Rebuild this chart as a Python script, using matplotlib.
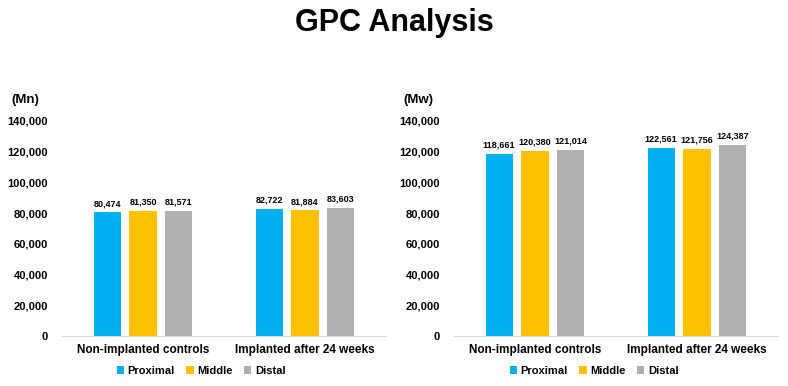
import matplotlib.pyplot as plt
import numpy as np

plt.rcParams['font.family'] = ['Liberation Sans', 'DejaVu Sans']
plt.rcParams['font.weight'] = 'bold'

groups = ['Non-implanted controls', 'Implanted after 24 weeks']
series = ['Proximal', 'Middle', 'Distal']
colors = ['#00B0F0', '#FFC000', '#B0B0B0']

mn_values = [[80474, 82722], [81350, 81884], [81571, 83603]]
mw_values = [[118661, 122561], [120380, 121756], [121014, 124387]]

yticks = [0, 20000, 40000, 60000, 80000, 100000, 120000, 140000]

fig = plt.figure(figsize=(7.88, 3.86), dpi=100)
fig.text(0.5, 0.94, 'GPC Analysis', ha='center', va='center', fontsize=22, fontweight='bold')

panels = [
    (62 / 788, mn_values, '(Mn)', 201 / 788),
    (454 / 788, mw_values, '(Mw)', 594 / 788),
]

x = np.arange(len(groups))
w = 0.167
offsets = [-0.222, 0, 0.222]

for left, vals, unit, legx in panels:
    ax = fig.add_axes([left, 50 / 386, 324 / 788, 215 / 386])
    bars = []
    for i, name in enumerate(series):
        b = ax.bar(x + offsets[i], vals[i], w, color=colors[i], label=name)
        bars.append(b)
        for xi, v in zip(x + offsets[i], vals[i]):
            ax.annotate(f'{v:,}', (xi, v), xytext=(0, 3), textcoords='offset points',
                        ha='center', va='bottom', fontsize=6.5, fontweight='bold')
    ax.set_xlim(-0.5, 1.5)
    ax.set_ylim(0, 140000)
    ax.set_yticks(yticks)
    ax.set_yticklabels([f'{t:,}' for t in yticks], fontsize=8, fontweight='bold')
    ax.set_xticks(x)
    ax.set_xticklabels(groups, fontsize=8.5, fontweight='bold')
    ax.tick_params(axis='both', length=0)
    ax.tick_params(axis='y', pad=10)
    ax.tick_params(axis='x', pad=6)
    for s in ['top', 'right', 'left']:
        ax.spines[s].set_visible(False)
    ax.spines['bottom'].set_color('#D9D9D9')
    ax.text(-0.155, 1.1, unit, transform=ax.transAxes, fontsize=9.5, fontweight='bold',
            ha='left', va='center')
    fig.legend(handles=bars, labels=series, loc='center', bbox_to_anchor=(legx, 15 / 386),
               ncol=3, frameon=False, handlelength=0.7, handleheight=0.7,
               handletextpad=0.3, columnspacing=1.0, prop={'weight': 'bold', 'size': 8})

fig.savefig('out.png', dpi=100)
